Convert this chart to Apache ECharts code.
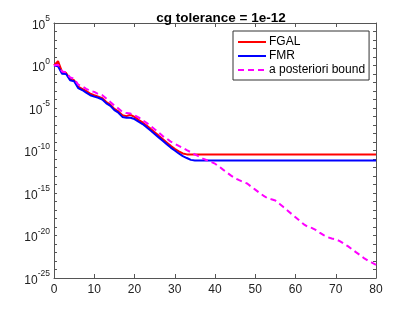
<!DOCTYPE html>
<html>
<head>
<meta charset="utf-8">
<script src="https://cdn.jsdelivr.net/npm/echarts@6/dist/echarts.min.js"></script>
<style>
html,body{margin:0;padding:0;background:#fff;}
#c{width:415px;height:312px;}
</style>
</head>
<body>
<div id="c"></div>
<script>
var titleText = 'cg tolerance = 1e-12';
var seriesNames = ['FGAL', 'FMR', 'a posteriori bound'];
var xTicks = [0, 10, 20, 30, 40, 50, 60, 70, 80];
var yTickExponents = [5, 0, -5, -10, -15, -20, -25];

var fgal = [
  1e0, 3.2e0, 1.8e-1, 1.3e-1, 2.5e-2, 1.8e-2, 3.2e-3, 1.8e-3, 1e-3, 5e-4,
  3.2e-4, 2.2e-4, 1.4e-4, 5e-5, 2.5e-5, 7.9e-6, 4e-6, 1.4e-6, 1.1e-6, 1.6e-6,
  8.9e-7, 4e-7, 2e-7, 8.9e-8, 3.5e-8, 1.4e-8, 5.6e-9, 2.2e-9, 8.9e-10, 3.5e-10,
  1.6e-10, 7.9e-11, 4.5e-11, 3.5e-11, 3.5e-11, 3.5e-11, 3.5e-11, 3.5e-11, 3.5e-11, 3.5e-11,
  3.5e-11, 3.5e-11, 3.5e-11, 3.5e-11, 3.5e-11, 3.5e-11, 3.5e-11, 3.5e-11, 3.5e-11, 3.5e-11,
  3.5e-11, 3.5e-11, 3.5e-11, 3.5e-11, 3.5e-11, 3.5e-11, 3.5e-11, 3.5e-11, 3.5e-11, 3.5e-11,
  3.5e-11, 3.5e-11, 3.5e-11, 3.5e-11, 3.5e-11, 3.5e-11, 3.5e-11, 3.5e-11, 3.5e-11, 3.5e-11,
  3.5e-11, 3.5e-11, 3.5e-11, 3.5e-11, 3.5e-11, 3.5e-11, 3.5e-11, 3.5e-11, 3.5e-11, 3.5e-11,
  3.5e-11
];
var fmr = [
  1e0, 7.9e-1, 1.1e-1, 1e-1, 1.8e-2, 1.4e-2, 2.2e-3, 1.3e-3, 6.3e-4, 3.2e-4,
  2.2e-4, 1.6e-4, 1e-4, 3.5e-5, 1.8e-5, 5.6e-6, 2.8e-6, 8.9e-7, 7.1e-7, 7.1e-7,
  5e-7, 2.5e-7, 1.3e-7, 5.6e-8, 2.2e-8, 8.9e-9, 3.5e-9, 1.4e-9, 5.6e-10, 2.2e-10,
  1e-10, 4.5e-11, 2.2e-11, 1.3e-11, 7.9e-12, 6.8e-12, 6.8e-12, 6.8e-12, 6.8e-12, 6.8e-12,
  6.8e-12, 6.8e-12, 6.8e-12, 6.8e-12, 6.8e-12, 6.8e-12, 6.8e-12, 6.8e-12, 6.8e-12, 6.8e-12,
  6.8e-12, 6.8e-12, 6.8e-12, 6.8e-12, 6.8e-12, 6.8e-12, 6.8e-12, 6.8e-12, 6.8e-12, 6.8e-12,
  6.8e-12, 6.8e-12, 6.8e-12, 6.8e-12, 6.8e-12, 6.8e-12, 6.8e-12, 6.8e-12, 6.8e-12, 6.8e-12,
  6.8e-12, 6.8e-12, 6.8e-12, 6.8e-12, 6.8e-12, 6.8e-12, 6.8e-12, 6.8e-12, 6.8e-12, 6.8e-12,
  6.8e-12
];
var bound = [
  1e0, 1.26e0, 2e-1, 1.6e-1, 4e-2, 2.8e-2, 5.6e-3, 3.5e-3, 1.8e-3, 1e-3,
  7.9e-4, 4.5e-4, 3.2e-4, 1.3e-4, 5e-5, 2e-5, 8.9e-6, 3.5e-6, 2.5e-6, 2.2e-6,
  1.4e-6, 7.9e-7, 3.5e-7, 1.8e-7, 7.9e-8, 3.2e-8, 1.3e-8, 5e-9, 2.5e-9, 1.1e-9,
  6.3e-10, 3.5e-10, 2e-10, 1.1e-10, 6.3e-11, 3.5e-11, 2e-11, 1.1e-11, 7.1e-12, 4.5e-12,
  2.8e-12, 1.3e-12, 5.6e-13, 2.5e-13, 1.1e-13, 5.6e-14, 3.2e-14, 2e-14, 1.3e-14, 5.6e-15,
  2.5e-15, 1.1e-15, 5e-16, 2.5e-16, 1.8e-16, 1.3e-16, 5.6e-17, 2.2e-17, 8.9e-18, 3.5e-18,
  1.4e-18, 5.6e-19, 2.2e-19, 1.1e-19, 7.9e-20, 4.5e-20, 2.2e-20, 1.1e-20, 6.3e-21, 4.5e-21,
  3.5e-21, 2.2e-21, 1.1e-21, 5.6e-22, 2.5e-22, 1.1e-22, 5e-23, 2.2e-23, 1.1e-23, 6.3e-24,
  3.5e-24
];

// y axis is a value axis in log10 space (decades); values are mapped to their exponent
function pairs(arr){ return arr.map(function(v, i){ return [i, Math.log(v) / Math.LN10]; }); }

var axisColor = '#555';
var font = 'Liberation Sans, Arial, Helvetica, sans-serif';
var eMax = yTickExponents[0], eMin = yTickExponents[yTickExponents.length - 1];

function xAxisDef(pos, labels){
  return {
    type: 'value', position: pos, min: xTicks[0], max: xTicks[xTicks.length - 1], interval: 10,
    axisLine: {show: true, onZero: false, lineStyle: {color: axisColor, width: 1}},
    axisTick: {show: true, inside: true, length: 4, lineStyle: {color: axisColor, width: 1}},
    axisLabel: {show: labels, color: '#222', fontFamily: font, fontSize: 12, margin: 6},
    splitLine: {show: false}
  };
}
function yAxisDef(pos, labels){
  return {
    type: 'value', position: pos, min: eMin, max: eMax, interval: 1,
    axisLine: {show: true, onZero: false, lineStyle: {color: axisColor, width: 1}},
    axisTick: {show: true, inside: true, length: 3, lineStyle: {color: axisColor, width: 1}},
    splitLine: {show: false},
    axisLabel: {
      show: labels, margin: 4, color: '#222', fontFamily: font, showMinLabel: true, showMaxLabel: true,
      formatter: function(v){
        var e = Math.round(v);
        if (yTickExponents.indexOf(e) < 0) return '';
        return '{b|10}{s|' + e + '}';
      },
      rich: {
        b: {fontSize: 12, fontFamily: font, color: '#222', verticalAlign: 'bottom', lineHeight: 17},
        s: {fontSize: 8.5, fontFamily: font, color: '#222', verticalAlign: 'top', lineHeight: 17, padding: [0, 0, 9, 0]}
      }
    }
  };
}

var chart = echarts.init(document.getElementById('c'), null, {renderer: 'canvas'});
chart.setOption({
  animation: false,
  backgroundColor: '#fff',
  title: {
    text: titleText, left: 216, top: 6, textAlign: 'center',
    textStyle: {fontFamily: font, fontSize: 13.5, fontWeight: 'bold', color: '#000'}
  },
  grid: {left: 54, right: 39, top: 23, bottom: 34},
  legend: {
    orient: 'vertical', left: 233, top: 31,
    data: seriesNames,
    backgroundColor: '#fff', borderColor: '#333', borderWidth: 1,
    padding: [5, 4, 4, 4], itemGap: 2, itemWidth: 28, itemHeight: 14,
    itemStyle: {opacity: 0},
    textStyle: {fontFamily: font, fontSize: 12, color: '#000', padding: [0, 0, 0, -2]}
  },
  xAxis: [xAxisDef('bottom', true), xAxisDef('top', false)],
  yAxis: [yAxisDef('left', true), yAxisDef('right', false)],
  series: [
    {name: seriesNames[0], type: 'line', data: pairs(fgal), symbol: 'none', showSymbol: false,
     xAxisIndex: 0, yAxisIndex: 0,
     lineStyle: {color: '#ff0000', width: 2}, itemStyle: {color: '#ff0000'}, z: 2},
    {name: seriesNames[1], type: 'line', data: pairs(fmr), symbol: 'none', showSymbol: false,
     xAxisIndex: 0, yAxisIndex: 0,
     lineStyle: {color: '#0000ff', width: 2}, itemStyle: {color: '#0000ff'}, z: 3},
    {name: seriesNames[2], type: 'line', data: pairs(bound), symbol: 'none', showSymbol: false,
     xAxisIndex: 0, yAxisIndex: 0,
     lineStyle: {color: '#ff00ff', width: 2, type: [6, 4]}, itemStyle: {color: '#ff00ff'}, z: 4}
  ]
});
</script>
</body>
</html>
